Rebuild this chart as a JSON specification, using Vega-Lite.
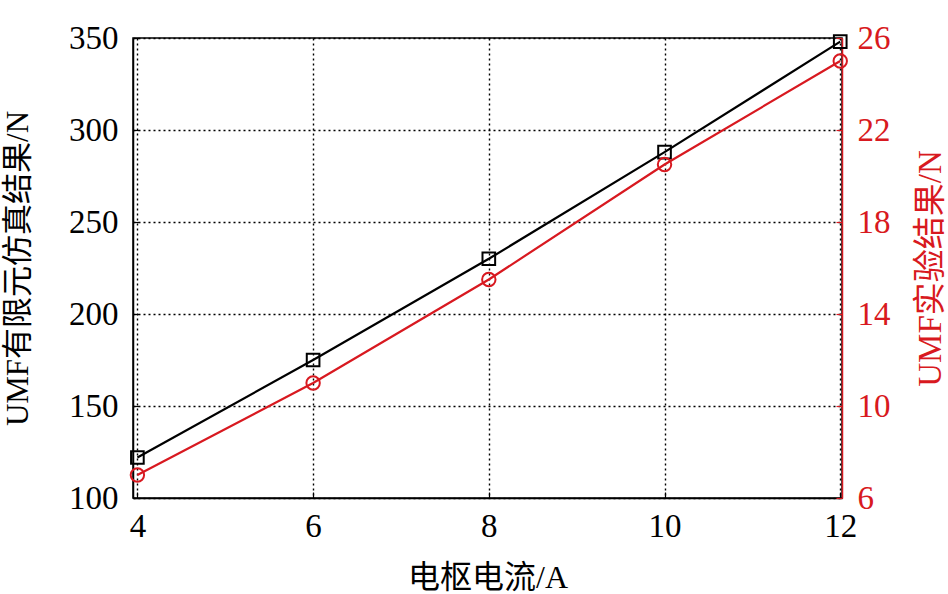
{
  "$schema": "https://vega.github.io/schema/vega-lite/v6.json",
  "width": 709,
  "height": 460,
  "autosize": {"type": "none"},
  "padding": {"left": 133, "top": 38, "right": 106, "bottom": 96},
  "background": "white",
  "config": {
    "view": {"stroke": "black", "strokeWidth": 1.5},
    "font": "Liberation Serif, Noto Sans CJK SC"
  },
  "data": {
    "values": [
      {"current": 4, "sim": 122, "exp": 7.0},
      {"current": 6, "sim": 175, "exp": 11.0},
      {"current": 8, "sim": 230, "exp": 15.5},
      {"current": 10, "sim": 288, "exp": 20.5},
      {"current": 12, "sim": 348, "exp": 25.0}
    ]
  },
  "encoding": {
    "x": {
      "field": "current",
      "type": "quantitative",
      "scale": {"domain": [3.95, 12.02], "nice": false, "zero": false},
      "axis": {
        "title": "电枢电流/A",
        "values": [4, 6, 8, 10, 12],
        "grid": true,
        "gridColor": "black",
        "gridDash": [2, 3],
        "gridWidth": 1.4,
        "domain": true,
        "domainColor": "black",
        "domainWidth": 1.5,
        "ticks": true,
        "tickSize": -6,
        "tickColor": "black",
        "tickWidth": 1.2,
        "labelFont": "Liberation Serif",
        "labelFontSize": 33,
        "labelColor": "black",
        "labelPadding": 18,
        "labelFlush": false,
        "titleFont": "Liberation Serif, Noto Sans CJK SC",
        "titleFontSize": 32,
        "titleFontWeight": "normal",
        "titleColor": "black",
        "titleBaseline": "middle",
        "titleY": 79
      }
    }
  },
  "layer": [
    {
      "encoding": {
        "y": {
          "field": "sim",
          "type": "quantitative",
          "scale": {"domain": [100, 350], "nice": false, "zero": false},
          "axis": {
            "title": "UMF有限元仿真结果/N",
            "values": [100, 150, 200, 250, 300, 350],
            "grid": true,
            "gridColor": "black",
            "gridDash": [2, 3],
            "gridWidth": 1.4,
            "domain": true,
            "domainColor": "black",
            "domainWidth": 1.5,
            "ticks": true,
            "tickSize": -6,
            "tickColor": "black",
            "tickWidth": 1.2,
            "labelFont": "Liberation Serif",
            "labelFontSize": 33,
            "labelColor": "black",
            "labelPadding": 21,
            "labelFlush": false,
            "titleFont": "Liberation Serif, Noto Sans CJK SC",
            "titleFontSize": 31,
            "titleFontWeight": "normal",
            "titleColor": "black",
            "titleAngle": 270,
            "titleBaseline": "middle",
            "titleAlign": "center",
            "titleX": -115,
            "titleY": 230
          }
        }
      },
      "layer": [
        {"mark": {"type": "line", "color": "black", "strokeWidth": 2.2}},
        {"mark": {"type": "point", "shape": "square", "color": "black", "filled": false, "size": 160, "strokeWidth": 2, "opacity": 1}}
      ]
    },
    {
      "encoding": {
        "y": {
          "field": "exp",
          "type": "quantitative",
          "scale": {"domain": [6, 26], "nice": false, "zero": false},
          "axis": {
            "orient": "right",
            "title": "UMF实验结果/N",
            "values": [6, 10, 14, 18, 22, 26],
            "grid": false,
            "domain": true,
            "domainColor": "#d81920",
            "domainWidth": 1.5,
            "ticks": true,
            "tickSize": -6,
            "tickColor": "#d81920",
            "tickWidth": 1.2,
            "labelFont": "Liberation Serif",
            "labelFontSize": 33,
            "labelColor": "#d81920",
            "labelPadding": 21,
            "labelFlush": false,
            "titleFont": "Liberation Serif, Noto Sans CJK SC",
            "titleFontSize": 33,
            "titleFontWeight": "normal",
            "titleColor": "#d81920",
            "titleAngle": 270,
            "titleBaseline": "middle",
            "titleAlign": "center",
            "titleX": 88,
            "titleY": 230
          }
        }
      },
      "layer": [
        {"mark": {"type": "line", "color": "#d81920", "strokeWidth": 2.2}},
        {"mark": {"type": "point", "shape": "circle", "color": "#d81920", "filled": false, "size": 180, "strokeWidth": 2, "opacity": 1}}
      ]
    }
  ],
  "resolve": {"scale": {"y": "independent"}}
}
